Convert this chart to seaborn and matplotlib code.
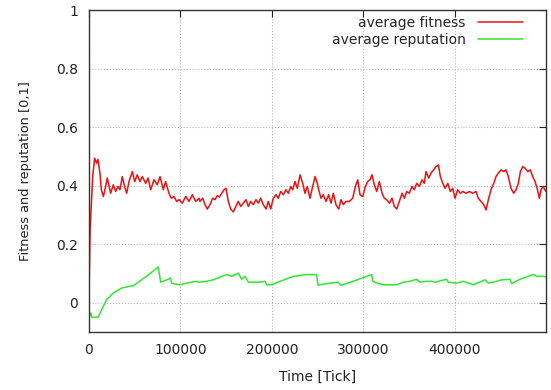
"""Average fitness and reputation over simulation time."""

import matplotlib

matplotlib.use("Agg")
import matplotlib.pyplot as plt
import pandas as pd
import seaborn as sns


FITNESS_X = [
    0, 1200, 2500, 4000, 6200, 8400, 9800, 12000, 13500, 15700, 18200, 20000,
    21900, 23700, 26600, 29200, 31700, 33900, 36400, 39000, 41200, 43800, 47400,
    50000, 52800, 55800, 58300, 62000, 64600, 67500, 71100, 74700, 77700, 81300,
    83800, 87500, 90000, 93000, 95900, 98500, 102100, 105800, 109400, 113000,
    116700, 120400, 121400, 124400, 126900, 129400, 132400, 135300, 137900, 140400,
    142600, 145200, 147700, 149900, 152400, 155000, 157900, 160800, 163300, 166000,
    168800, 171800, 174300, 176900, 179800, 182700, 185200, 187900, 190700, 193700,
    196200, 198800, 201600, 204600, 207100, 209700, 212600, 215500, 218100, 220700,
    222900, 225400, 227900, 230900, 233800, 236300, 238800, 241800, 244700, 247300,
    249800, 251300, 253800, 256300, 259300, 262200, 264800, 267300, 270200, 273200,
    275700, 278200, 281200, 284800, 288500, 291400, 294000, 296500, 299500, 302300,
    304900, 307400, 309600, 312100, 314800, 317600, 320600, 323100, 325700, 328600,
    331500, 334000, 336700, 339500, 342500, 345000, 347600, 350400, 353400, 355900,
    358500, 361400, 364300, 366800, 368700, 371600, 374200, 377100, 379600, 382200,
    384400, 387000, 389500, 392500, 395300, 397900, 400400, 403400, 406200, 408900,
    412500, 416100, 419800, 423400, 425900, 428900, 431800, 434400, 436900, 439800,
    442800, 445300, 447800, 450800, 453700, 456200, 458700, 461700, 464600, 467200,
    469700, 471900, 474500, 477000, 480000, 482800, 485400, 488000, 490200, 492700,
    494500, 496700, 500000,
]
FITNESS = [
    0.02, 0.25, 0.33, 0.43, 0.494, 0.477, 0.49, 0.443, 0.386, 0.363, 0.397, 0.426,
    0.40, 0.374, 0.403, 0.38, 0.397, 0.386, 0.431, 0.397, 0.374, 0.414, 0.448,
    0.414, 0.437, 0.414, 0.431, 0.408, 0.426, 0.386, 0.42, 0.403, 0.431, 0.386,
    0.414, 0.374, 0.357, 0.363, 0.346, 0.352, 0.34, 0.363, 0.346, 0.369,
    0.346, 0.357, 0.346, 0.357, 0.335, 0.32, 0.335, 0.357, 0.352, 0.366,
    0.361, 0.374, 0.386, 0.391, 0.346, 0.32, 0.31, 0.329, 0.346, 0.329,
    0.34, 0.352, 0.329, 0.346, 0.335, 0.352, 0.34, 0.357, 0.335, 0.32,
    0.346, 0.32, 0.357, 0.369, 0.357, 0.38, 0.369, 0.386, 0.374, 0.397,
    0.386, 0.414, 0.391, 0.437, 0.408, 0.374, 0.397, 0.357, 0.397, 0.431,
    0.408, 0.386, 0.357, 0.369, 0.346, 0.369, 0.34, 0.374, 0.335, 0.32,
    0.352, 0.335, 0.346, 0.346, 0.357, 0.397, 0.42, 0.369, 0.363, 0.397,
    0.414, 0.42, 0.437, 0.403, 0.38, 0.414, 0.374, 0.357, 0.352, 0.34,
    0.357, 0.329, 0.32, 0.346, 0.374, 0.357, 0.38, 0.374, 0.397, 0.386,
    0.408, 0.397, 0.42, 0.408, 0.448, 0.426, 0.443, 0.454, 0.465, 0.471,
    0.431, 0.408, 0.391, 0.408, 0.38, 0.391, 0.357, 0.386, 0.374, 0.38,
    0.374, 0.38, 0.374, 0.38, 0.357, 0.346, 0.335, 0.317, 0.352, 0.386,
    0.408, 0.431, 0.443, 0.454, 0.448, 0.454, 0.431, 0.391, 0.374, 0.386,
    0.408, 0.448, 0.465, 0.46, 0.448, 0.454, 0.431, 0.414, 0.391, 0.357,
    0.386, 0.397, 0.38,
]

REPUTATION_X = [
    0, 800, 2000, 3000, 10200, 13900, 19300, 26600, 35700, 44800, 48500, 63000,
    75800, 78400, 83100, 89300, 90400, 99500, 106900, 117800, 120000, 128700,
    136000, 150500, 156100, 163300, 167000, 170700, 174300, 187100, 192600, 194400,
    199900, 209000, 223600, 238200, 249000, 250500, 260000, 272800, 275400, 289200,
    309300, 310400, 314800, 322000, 336600, 343900, 351200, 358500, 362100, 369400,
    374800, 378600, 391300, 393100, 402200, 409500, 420400, 433200, 436900, 442400,
    451500, 460600, 462400, 471500, 486100, 489700, 496300, 500000,
]
REPUTATION = [
    -0.03, -0.045, -0.035, -0.05, -0.049, -0.024, 0.01, 0.033, 0.05, 0.056, 0.058, 0.09,
    0.122, 0.07, 0.075, 0.084, 0.066, 0.061, 0.067, 0.073, 0.07, 0.073,
    0.078, 0.096, 0.09, 0.101, 0.08, 0.09, 0.07, 0.07, 0.073, 0.061,
    0.061, 0.073, 0.09, 0.096, 0.096, 0.06, 0.065, 0.07, 0.059, 0.073,
    0.096, 0.073, 0.067, 0.061, 0.061, 0.07, 0.073, 0.08, 0.07, 0.073,
    0.073, 0.07, 0.08, 0.07, 0.067, 0.073, 0.061, 0.078, 0.067, 0.07,
    0.078, 0.08, 0.065, 0.08, 0.096, 0.09, 0.09, 0.088,
]

X_TICKS = [0, 100000, 200000, 300000, 400000]
Y_TICKS = [0, 0.2, 0.4, 0.6, 0.8, 1]
Y_TICK_LABELS = ["0", "0.2", "0.4", "0.6", "0.8", "1"]


def main() -> None:
    sns.set_style("white")
    plt.rcParams["font.family"] = ["DejaVu Sans"]

    fitness = pd.DataFrame({"tick": FITNESS_X, "value": FITNESS})
    reputation = pd.DataFrame({"tick": REPUTATION_X, "value": REPUTATION})

    fig = plt.figure(figsize=(5.51, 3.90), dpi=100)
    ax = fig.add_axes([0.1615, 0.149, 0.8295, 0.825])

    sns.lineplot(data=fitness, x="tick", y="value", ax=ax, color="#f01010",
                 linewidth=1.1, label="average fitness")
    sns.lineplot(data=reputation, x="tick", y="value", ax=ax, color="#33e633",
                 linewidth=1.1, label="average reputation")

    ax.set_xlim(0, 500000)
    ax.set_ylim(-0.1, 1)
    ax.set_xticks(X_TICKS)
    ax.set_xticklabels([str(t) for t in X_TICKS])
    ax.set_yticks(Y_TICKS)
    ax.set_yticklabels(Y_TICK_LABELS)
    ax.tick_params(direction="in", length=5, width=0.8, top=True, right=True,
                   labelsize=10, colors="#222222", pad=8)
    ax.grid(True, linestyle=":", color="#b8b8b8", linewidth=0.8)
    for spine in ax.spines.values():
        spine.set_color("#333333")
        spine.set_linewidth(1.0)

    ax.set_xlabel("Time [Tick]", fontsize=10, color="#222222", labelpad=9)
    ax.set_ylabel("Fitness and reputation [0,1]", fontsize=9.3, color="#222222",
                  labelpad=17)

    ax.legend(loc="upper right", bbox_to_anchor=(0.961, 1.0), frameon=False,
              markerfirst=False, fontsize=10, handlelength=3.2,
              handletextpad=0.9, labelspacing=0.25, borderaxespad=0.0)

    fig.savefig("out.png", dpi=100)
    plt.close(fig)


if __name__ == "__main__":
    main()
